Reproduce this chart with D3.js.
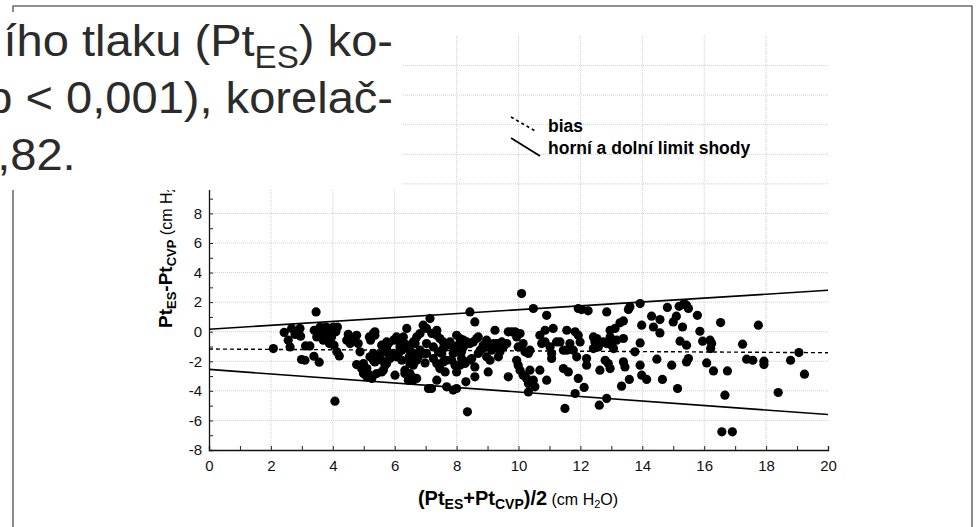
<!DOCTYPE html>
<html>
<head>
<meta charset="utf-8">
<script src="https://cdn.jsdelivr.net/npm/d3@7"></script>
<style>
  body { margin: 0; background: #fff; }
  svg { display: block; font-family: "Liberation Sans", Arial, sans-serif; }
</style>
</head>
<body>
<div id="chart"></div>
<script>
// mean of the two methods (x) and their difference (y)
var meanVals = [
  2.08,2.43,2.56,2.67,2.62,2.78,2.94,2.96,2.99,3.10,3.12,3.26,3.46,3.39,3.56,3.40,3.48,3.59,3.64,3.69,
  3.78,3.82,3.89,3.91,3.96,4.02,4.04,4.10,4.15,4.13,4.21,4.07,4.50,4.45,4.56,4.77,4.82,4.88,4.77,4.99,
  5.10,5.18,5.22,5.31,5.36,4.99,5.10,5.26,5.42,5.58,5.69,5.31,5.47,5.36,5.58,5.63,5.74,5.83,5.80,6.01,
  6.06,6.12,6.17,6.23,6.28,6.39,6.33,6.44,6.55,6.49,6.47,6.60,6.66,6.71,6.82,6.92,6.92,6.98,7.03,7.09,
  4.66,4.93,5.04,5.20,5.63,5.36,5.20,5.31,5.42,5.63,5.74,5.69,5.58,5.74,5.85,5.96,6.17,6.23,6.28,6.39,
  5.96,6.06,6.49,6.60,6.33,6.49,6.60,6.71,6.76,7.03,6.71,6.82,6.60,
  7.14,7.03,7.20,7.36,7.46,7.25,7.57,7.68,7.79,7.41,7.52,7.25,7.36,7.57,7.46,7.63,7.19,7.36,7.68,7.89,
  8.00,7.89,8.00,8.11,8.00,8.22,7.84,7.95,8.00,8.16,8.27,8.30,8.35,8.43,8.59,8.43,8.54,8.59,8.59,8.43,
  8.70,8.76,8.86,8.97,9.02,9.13,9.24,9.30,9.40,9.46,9.62,9.67,9.67,9.78,9.89,10.05,10.10,9.94,9.99,9.94,
  9.99,10.05,10.15,10.26,10.32,10.32,10.15,10.21,10.32,10.37,10.37,10.48,10.53,10.48,10.69,10.69,10.75,10.86,10.91,10.91,
  10.86,11.02,11.07,11.07,11.12,11.23,11.50,11.56,11.45,11.56,11.45,11.61,11.83,11.93,11.83,11.88,11.93,
  7.36,7.57,8.05,8.22,8.33,8.16,7.89,7.68,8.11,8.49,8.70,8.65,8.86,9.08,9.19,9.30,8.97,9.08,9.35,9.51,
  11.34,11.66,11.77,11.99,12.04,12.25,11.93,12.20,12.20,12.12,12.42,12.47,12.53,12.58,12.42,12.63,12.61,12.85,12.85,12.80,
  12.90,12.96,12.74,12.85,12.96,13.01,13.07,12.96,13.12,13.17,13.28,13.39,13.39,13.33,13.39,13.44,13.58,13.55,13.60,13.76,
  13.93,13.98,13.93,13.93,13.98,14.14,14.30,14.36,14.57,14.57,14.47,14.65,14.81,15.00,15.10,15.19,15.30,14.95,15.14,15.22,
  15.43,15.35,15.43,15.49,15.49,15.43,15.78,15.86,15.95,16.08,16.19,16.24,16.21,16.30,16.53,16.67,16.57,16.91,16.75,17.24,
  17.37,17.57,17.75,17.93,17.93,18.39,18.79,19.06,19.24
];
var diffVals = [
  -1.14,-0.05,-0.57,0.22,-1.03,-0.19,0.22,-0.30,-1.88,-1.93,-0.96,-0.96,1.34,-1.66,-2.06,0.10,-0.35,0.32,-0.01,-0.57,
  0.32,-0.24,-0.80,0.22,-0.35,0.32,-0.91,-0.01,0.32,-1.36,-1.64,-4.70,-0.17,-0.57,-0.80,-0.24,-0.80,-1.36,-2.22,-2.15,
  -2.49,-0.35,-0.57,-0.12,-0.24,-2.83,-3.05,-3.16,-2.83,-2.72,-2.26,-1.47,-1.59,-2.04,-0.91,-1.25,-1.14,-1.59,-0.80,-2.94,
  -0.35,-1.47,-0.80,-1.93,-0.35,0.22,-2.83,-3.28,-3.05,-1.25,-1.70,-1.47,-0.80,-1.93,-1.25,-1.47,0.44,-2.11,-0.80,-3.84,
  -0.46,-2.49,-2.72,-2.94,-2.60,-0.01,-1.70,-1.93,-1.70,-1.03,-0.69,-1.36,-1.93,-2.15,-1.81,-0.57,-1.03,-1.25,-0.69,-0.91,
  -1.47,-1.70,-2.15,-2.26,-2.60,-2.83,-3.28,-3.16,-1.70,-1.47,-0.35,-0.12,-0.69,
  0.89,0.22,-0.12,-0.24,-0.46,-1.03,-1.14,-0.91,-0.69,-1.36,-1.47,-1.81,-2.15,-2.04,-2.49,-2.72,-3.84,-3.28,-3.73,-3.95,
  -3.84,-1.03,-1.36,-0.46,-0.24,-0.57,-1.93,-2.26,-2.72,-1.81,-2.15,-3.39,-5.42,1.34,0.66,-0.80,-0.69,-2.38,-3.05,-1.93,
  -0.35,-1.25,-0.91,-0.57,-2.72,-1.25,0.10,-0.80,-1.36,-0.69,-0.80,-3.05,-0.01,-0.01,-0.01,-0.12,2.58,-0.35,-1.03,-1.93,
  -2.26,-2.60,-2.94,-3.16,-3.50,-4.07,-0.80,-1.36,-1.47,-1.25,-2.60,-3.28,-3.73,1.57,-0.24,-2.60,-0.80,-0.69,1.11,-3.28,
  0.10,-1.03,-1.47,-1.81,0.22,-0.69,-5.19,0.10,-1.25,-1.25,-2.49,-2.72,-0.01,-0.24,-4.18,-1.70,1.57,
  0.10,-0.69,-0.91,-1.03,-0.69,-1.36,-1.47,-1.93,-2.26,-1.81,-1.47,-0.46,-1.14,-0.91,-0.80,-1.03,-1.70,-1.93,-1.70,-1.03,
  -0.69,-0.80,-1.25,-0.69,1.50,1.41,-3.16,-1.81,-2.26,-3.77,-0.35,-0.69,-0.46,-1.03,-1.14,-2.60,-4.97,1.34,-4.51,-1.93,
  -2.15,-2.49,-0.69,-0.80,-0.35,-0.91,-1.14,0.10,0.22,-0.57,0.60,0.73,-0.46,-3.68,-2.04,-2.38,-3.23,1.50,1.68,-1.36,
  1.90,0.44,-0.76,-2.26,-2.94,-3.23,1.05,0.32,0.82,-0.08,-1.86,-3.23,1.64,0.66,1.05,1.72,0.32,-2.26,-3.84,-0.64,
  -0.91,1.90,1.79,1.57,-1.81,-2.04,1.11,0.03,-0.64,-2.11,-0.57,-0.80,-1.14,-2.65,0.62,-4.29,-6.77,-6.77,-2.65,-0.84,
  -1.86,-1.93,0.44,-1.99,-2.22,-4.11,-1.93,-1.41,-2.87
];

// bias and limits of agreement at mean = 0 and mean = 20
var lineX = [0, 20];
var biasY = [-1.17, -1.42];
var upperY = [0.17, 2.8];
var lowerY = [-2.55, -5.6];

var xTicks = d3.range(0, 21, 1);
var yTicks = d3.range(-8, 21, 1);
var yLabelMax = 8;   // higher labels sit under the pasted text patch
var xGrid = d3.range(2, 20, 2);
var yGrid = d3.range(-6, 20, 2);

var textLines = ["ího tlaku (Pt", "p < 0,001), korelač-", "0,82."];
var legendLabels = ["bias", "horní a dolní limit shody"];

var W = 979, H = 527;
var svg = d3.select("#chart").append("svg")
    .attr("width", W)
    .attr("height", H);

svg.append("rect").attr("width", W).attr("height", H).attr("fill", "#fff");

// outer frame of the scanned page
svg.append("path")
    .attr("d", "M13,530 V6 H972 V530")
    .attr("fill", "none")
    .attr("stroke", "#6e6e6e")
    .attr("stroke-width", 1.6);

var x = d3.scaleLinear().domain([0, 20]).range([209, 828]);
var y = d3.scaleLinear().domain([-8, 20]).range([450, 36]);

// grid
svg.append("g").selectAll("line")
    .data(xGrid)
    .enter().append("line")
    .attr("x1", function(d) { return x(d); })
    .attr("x2", function(d) { return x(d); })
    .attr("y1", y(20))
    .attr("y2", y(-8))
    .attr("stroke", "#cfcfcf")
    .attr("stroke-dasharray", "1,1");
svg.append("g").selectAll("line")
    .data(yGrid)
    .enter().append("line")
    .attr("x1", x(0))
    .attr("x2", x(20))
    .attr("y1", function(d) { return y(d); })
    .attr("y2", function(d) { return y(d); })
    .attr("stroke", "#cfcfcf")
    .attr("stroke-dasharray", "1,1");

// axes, ticks every unit pointing inward, labels every 2
var xAxis = d3.axisBottom(x)
    .tickValues(xTicks)
    .tickSize(-4)
    .tickPadding(10)
    .tickFormat(function(d) { return d % 2 === 0 ? d : ""; });
var gx = svg.append("g")
    .attr("transform", "translate(0," + y(-8) + ")")
    .call(xAxis);

var yAxis = d3.axisLeft(y)
    .tickValues(yTicks)
    .tickSize(-4)
    .tickPadding(7)
    .tickFormat(function(d) { return (d % 2 === 0 && d <= yLabelMax) ? d : ""; });
var gy = svg.append("g")
    .attr("transform", "translate(" + x(0) + ",0)")
    .call(yAxis);

[gx, gy].forEach(function(g) {
  g.select(".domain").attr("stroke", "#111").attr("stroke-width", 1.3);
  g.selectAll(".tick line").attr("stroke", "#222");
  g.selectAll("text")
    .attr("fill", "#111")
    .style("font-size", "15px")
    .style("font-family", "Liberation Sans, Arial, sans-serif");
});

// bias and limit lines
function seg(vals) {
  return d3.line()
    .x(function(d, i) { return x(lineX[i]); })
    .y(function(d) { return y(d); })(vals);
}
svg.append("path").attr("d", seg(upperY))
    .attr("fill", "none").attr("stroke", "#000").attr("stroke-width", 1.6);
svg.append("path").attr("d", seg(lowerY))
    .attr("fill", "none").attr("stroke", "#000").attr("stroke-width", 1.6);
svg.append("path").attr("d", seg(biasY))
    .attr("fill", "none").attr("stroke", "#000").attr("stroke-width", 1.4)
    .attr("stroke-dasharray", "4,3");

// points
svg.append("g").selectAll("circle")
    .data(meanVals)
    .enter().append("circle")
    .attr("cx", function(d) { return x(d); })
    .attr("cy", function(d, i) { return y(diffVals[i]); })
    .attr("r", 4.6)
    .attr("fill", "#000");

// legend
svg.append("line")
    .attr("x1", 511).attr("y1", 117).attr("x2", 537).attr("y2", 132)
    .attr("stroke", "#000").attr("stroke-width", 1.6).attr("stroke-dasharray", "3,3");
svg.append("line")
    .attr("x1", 511).attr("y1", 138).attr("x2", 540).attr("y2", 156)
    .attr("stroke", "#000").attr("stroke-width", 1.8);
svg.append("text").attr("x", 548).attr("y", 132)
    .style("font-size", "17.5px").style("font-weight", "bold")
    .text(legendLabels[0]);
svg.append("text").attr("x", 548).attr("y", 154)
    .style("font-size", "17.5px").style("font-weight", "bold")
    .text(legendLabels[1]);

// y axis title, cut off by the pasted patch above y = 190
svg.append("clipPath").attr("id", "ytClip")
  .append("rect").attr("x", 0).attr("y", 190).attr("width", 209).attr("height", 300);
var yt = svg.append("g")
    .attr("clip-path", "url(#ytClip)")
  .append("text")
    .attr("transform", "translate(172,328) rotate(-90)")
    .attr("text-anchor", "start")
    .attr("fill", "#000");
yt.append("tspan").style("font-size", "19px").style("font-weight", "bold").text("Pt");
yt.append("tspan").style("font-size", "13px").style("font-weight", "bold").attr("dy", 4).text("ES");
yt.append("tspan").style("font-size", "19px").style("font-weight", "bold").attr("dy", -4).text("-Pt");
yt.append("tspan").style("font-size", "13px").style("font-weight", "bold").attr("dy", 4).text("CVP");
yt.append("tspan").style("font-size", "16px").attr("dy", -4).text(" (cm H");
yt.append("tspan").style("font-size", "11px").attr("dy", 3).text("2");
yt.append("tspan").style("font-size", "16px").attr("dy", -3).text("O)");

// x axis title
var xt = svg.append("text")
    .attr("x", 518)
    .attr("y", 505)
    .attr("text-anchor", "middle")
    .attr("fill", "#000");
xt.append("tspan").style("font-size", "20px").style("font-weight", "bold").text("(Pt");
xt.append("tspan").style("font-size", "14px").style("font-weight", "bold").attr("dy", 4).text("ES");
xt.append("tspan").style("font-size", "20px").style("font-weight", "bold").attr("dy", -4).text("+Pt");
xt.append("tspan").style("font-size", "14px").style("font-weight", "bold").attr("dy", 4).text("CVP");
xt.append("tspan").style("font-size", "20px").style("font-weight", "bold").attr("dy", -4).text(")/2");
xt.append("tspan").style("font-size", "16px").text(" (cm H");
xt.append("tspan").style("font-size", "11px").attr("dy", 3).text("2");
xt.append("tspan").style("font-size", "16px").attr("dy", -3).text("O)");

// white patch of article text laid over the top-left of the chart
svg.append("rect")
    .attr("x", 0).attr("y", 12)
    .attr("width", 403).attr("height", 178)
    .attr("fill", "#fff");

var page = svg.append("g")
    .attr("fill", "#2b2b2b")
    .style("font-size", "44px");

var t1 = page.append("text")
    .attr("transform", "translate(393,56) scale(1.07,1)")
    .attr("text-anchor", "end");
t1.append("tspan").text(textLines[0]);
t1.append("tspan").style("font-size", "31px").attr("dy", 12).text("ES");
t1.append("tspan").attr("dy", -12).text(") ko-");

page.append("text")
    .attr("transform", "translate(393,113) scale(1.07,1)")
    .attr("text-anchor", "end")
    .text(textLines[1]);

page.append("text")
    .attr("transform", "translate(-29,170) scale(1.07,1)")
    .text(textLines[2]);
</script>
</body>
</html>
